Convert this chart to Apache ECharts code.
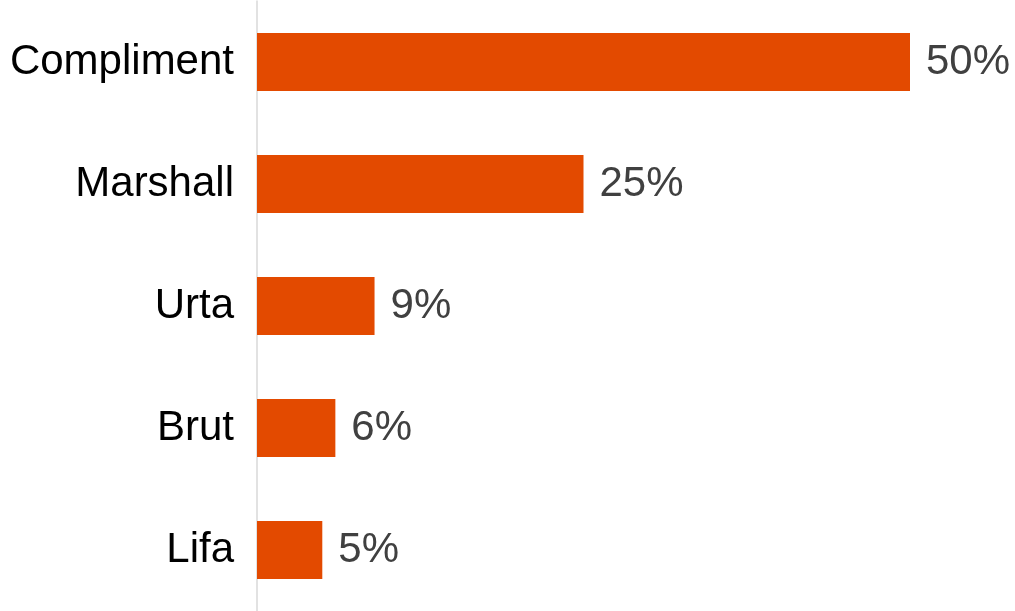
<!DOCTYPE html>
<html>
<head>
<meta charset="utf-8">
<script src="https://cdn.jsdelivr.net/npm/echarts@6/dist/echarts.min.js"></script>
<style>html,body{margin:0;padding:0;background:#fff;}#c{width:1015px;height:611px;}</style>
</head>
<body>
<div id="c"></div>
<script>
var categories = ["Compliment", "Marshall", "Urta", "Brut", "Lifa"];
var shares = [50, 25, 9, 6, 5];

var chart = echarts.init(document.getElementById('c'), null, {renderer: 'canvas'});
chart.setOption({
  animation: false,
  backgroundColor: '#ffffff',
  grid: {left: 257, right: 105, top: 1, bottom: 0, containLabel: false},
  xAxis: {type: 'value', min: 0, max: 50, show: false},
  yAxis: {
    type: 'category',
    data: categories,
    inverse: true,
    axisLine: {show: true, lineStyle: {color: '#d9d9d9', width: 1.5}},
    axisTick: {show: false},
    axisLabel: {color: '#000000', fontSize: 42, fontFamily: 'Liberation Sans, Arial, sans-serif', margin: 23, padding: [0, 0, 9, 0]}
  },
  series: [{
    type: 'bar',
    data: shares,
    barWidth: 58,
    itemStyle: {color: '#E34A00'},
    label: {
      show: true,
      position: 'right',
      distance: 16,
      formatter: '{c}%',
      color: '#404040',
      fontSize: 42,
      fontFamily: 'Liberation Sans, Arial, sans-serif'
    }
  }]
});
</script>
</body>
</html>
